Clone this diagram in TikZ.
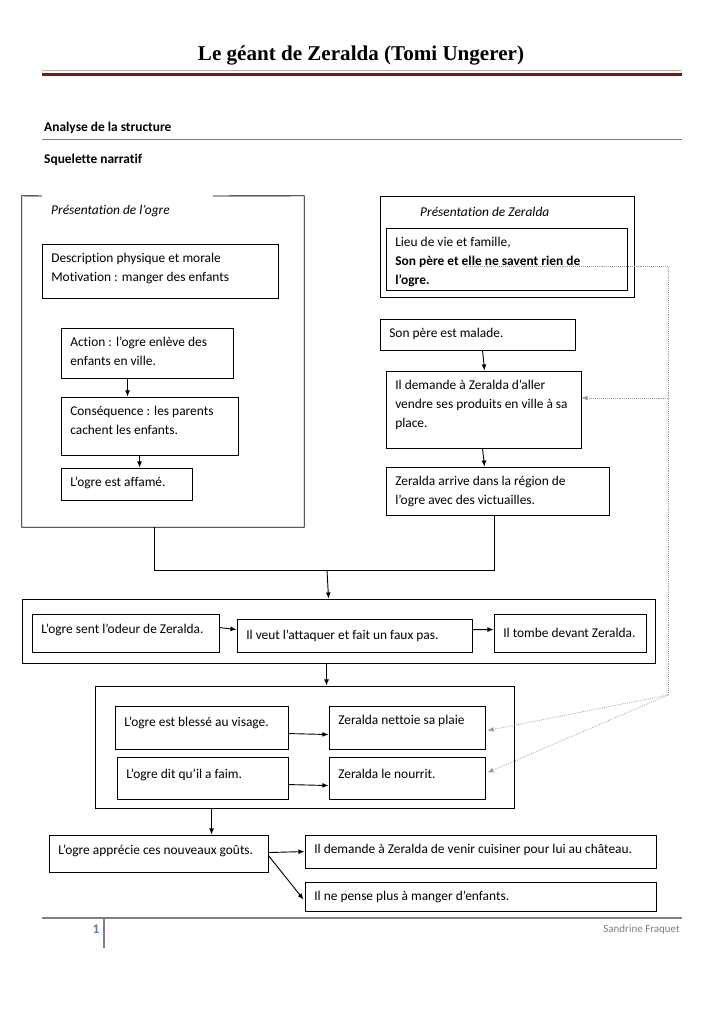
\documentclass[tikz,border=0pt]{standalone}
\usepackage{fontspec}
\setmainfont{Carlito}[Ligatures=NoCommon]
\newfontfamily\titlefont{Liberation Serif}
\usetikzlibrary{fit,calc,arrows.meta}
\definecolor{hdark}{HTML}{6B1A1A}
\definecolor{hlight}{HTML}{CFA3A3}
\definecolor{fblue}{HTML}{4F81BD}
\tikzset{
  box/.style={draw, line width=0.75pt, inner sep=0pt},
  txt/.style={anchor=north west, inner sep=0pt, align=left, font=\fontsize{11}{15.6}\selectfont},
  arr/.style={-{Latex[length=5pt,width=4pt]}, line width=0.75pt},
  dots/.style={densely dotted, gray!80, line width=0.6pt},
}
\newcommand\bx[7]{%
  \node[box, fit={(#2,#3)(#4,#5)}] (#1) {};
  \node[txt] (#1t) at ($(#1.north west)+(9.5,#6-5)$) {\rule{0pt}{9pt}#7};}
\begin{document}
\begin{tikzpicture}[x=0.8207pt,y=-0.8207pt]
\useasboundingbox[fill=white] (0,0) rectangle (725,1024);
% header
\node[anchor=base, inner sep=0pt, font=\titlefont\bfseries\fontsize{17.3}{19}\selectfont] (title) at (361,61) {Le géant de Zeralda (Tomi Ungerer)};
\draw[hlight, line width=0.9pt] (42,70.5) -- (682,70.5);
\draw[hdark, line width=2.6pt] (42,74.5) -- (682,74.5);
\node[anchor=base west, inner sep=0pt, font=\bfseries\fontsize{11}{13}\selectfont] (h1) at (44,131) {Analyse de la structure};
\draw[gray, line width=0.8pt] (42,139.5) -- (682,139.5);
\node[anchor=base west, inner sep=0pt, font=\bfseries\fontsize{11}{13}\selectfont] (h2) at (44,163) {Squelette narratif};
% left container
\node[fit={(22,196)(304,527)}, inner sep=0pt] (ogre) {};
\draw[line width=0.75pt] (42,196) -- (ogre.north west) -- (ogre.south west) -- (ogre.south east) -- (ogre.north east) -- (213,196);
\node[anchor=base west, inner sep=0pt, font=\itshape\fontsize{11}{13}\selectfont] (ogret) at (51,214) {Présentation de l’ogre};
\bx{desc}{42}{244}{278}{298}{13}{Description physique et morale\\Motivation : manger des enfants}
\bx{action}{61}{328}{233}{378}{13}{Action : l’ogre enlève des\\enfants en ville.}
\bx{cons}{61}{397}{238}{455}{13}{Conséquence : les parents\\cachent les enfants.}
\bx{aff}{61}{468}{192}{500}{13}{L’ogre est affamé.}
\draw[arr] ($(action.south west)+(67,0)$) -- ($(cons.north west)+(67,0)$);
\draw[arr] ($(cons.south west)+(79,0)$) -- ($(aff.north west)+(79,0)$);
% right container
\node[box, fit={(380,196)(634,297)}] (zer) {};
\node[anchor=base west, inner sep=0pt, font=\itshape\fontsize{11}{13}\selectfont] (zert) at (420,216) {Présentation de Zeralda};
\bx{lieu}{386}{228}{627}{290}{13}{Lieu de vie et famille,\\\textbf{Son père et elle ne savent rien de}\\\textbf{l’ogre.}}
\bx{pere}{380}{319}{575}{350}{13}{Son père est malade.}
\bx{idem}{386}{371}{581}{448}{13}{Il demande à Zeralda d’aller\\vendre ses produits en ville à sa\\place.}
\bx{arrive}{386}{467}{609}{515}{13}{Zeralda arrive dans la région de\\l’ogre avec des victuailles.}
\draw[arr] ($(pere.south west)+(103,0)$) -- ($(idem.north west)+(99,0)$);
\draw[arr] ($(idem.south west)+(97,0)$) -- ($(arrive.north west)+(99,0)$);
% junction
\coordinate (jl) at (154,570);
\coordinate (jr) at (494,570);
\coordinate (jm) at (327,570);
\draw[line width=0.75pt] (ogre.south -| jl) -- (jl) -- (jr) -- (arrive.south -| jr);
% row 1
\node[box, fit={(22,599)(655,663)}] (row1) {};
\draw[arr] (jm) -- ($(row1.north west)+(307,0)$);
\bx{sent}{32}{614}{219}{652}{14}{L’ogre sent l’odeur de Zeralda.}
\bx{veut}{237}{619}{472}{652}{15}{Il veut l’attaquer et fait un faux pas.}
\bx{tombe}{494}{614}{646}{652}{18}{Il tombe devant Zeralda.}
\draw[arr] ($(sent.north east)+(0,14)$) -- ($(veut.north west)+(0,11)$);
\draw[arr] ($(veut.north east)+(0,11)$) -- ($(tombe.north west)+(0,16)$);
% row 2
\node[box, fit={(95,686)(514,808)}] (row2) {};
\draw[arr] ($(row1.south west)+(305,0)$) -- ($(row2.north west)+(232,0)$);
\bx{bless}{115}{706}{288}{749}{15}{L’ogre est blessé au visage.}
\bx{nett}{329}{706}{485}{749}{13}{Zeralda nettoie sa plaie}
\bx{faim}{117}{757}{288}{799}{16}{L’ogre dit qu’il a faim.}
\bx{nour}{329}{757}{485}{799}{16}{Zeralda le nourrit.}
\draw[arr] ($(bless.north east)+(0,28)$) -- ($(nett.north west)+(0,29)$);
\draw[arr] ($(faim.north east)+(0,28)$) -- ($(nour.north west)+(0,29)$);
% bottom
\bx{appr}{49}{835}{268}{872}{14}{L’ogre apprécie ces nouveaux goûts.}
\bx{cuis}{305}{835}{656}{868}{13}{Il demande à Zeralda de venir cuisiner pour lui au château.}
\bx{pense}{305}{882}{656}{911}{13}{Il ne pense plus à manger d’enfants.}
\draw[arr] ($(row2.south west)+(117,0)$) -- ($(appr.north west)+(163,0)$);
\draw[arr] ($(appr.north east)+(0,18)$) -- ($(cuis.north west)+(0,17)$);
\draw[arr] ($(appr.north east)+(0,21)$) -- ($(pense.north west)+(-1,18)$);
% dotted links
\coordinate (d0) at (466,266);
\coordinate (d1) at (668,266);
\coordinate (d2) at (668,695);
\coordinate (d3) at (668,398);
\draw[dots] (d0) -- (d1) -- (d2);
\draw[dots, -{Latex[length=5pt,width=4pt]}] (d3) -- (idem.east |- d3);
\draw[dots, -{Latex[length=5pt,width=4pt]}] (d2) -- ($(nett.north east)+(2,25)$);
\draw[dots, -{Latex[length=5pt,width=4pt]}] (d2) -- ($(nour.north east)+(2,16)$);
% footer
\draw[gray, line width=1.2pt] (42,918) -- (682,918);
\draw[gray, line width=1.2pt] (104,918) -- (104,948);
\node[anchor=base, inner sep=0pt, text=fblue, font=\bfseries\fontsize{11}{13}\selectfont] (pnum) at (96,933) {1};
\node[anchor=base east, inner sep=0pt, text=gray, font=\fontsize{9}{11}\selectfont] (auth) at (680,932) {Sandrine Fraquet};
\end{tikzpicture}
\end{document}
